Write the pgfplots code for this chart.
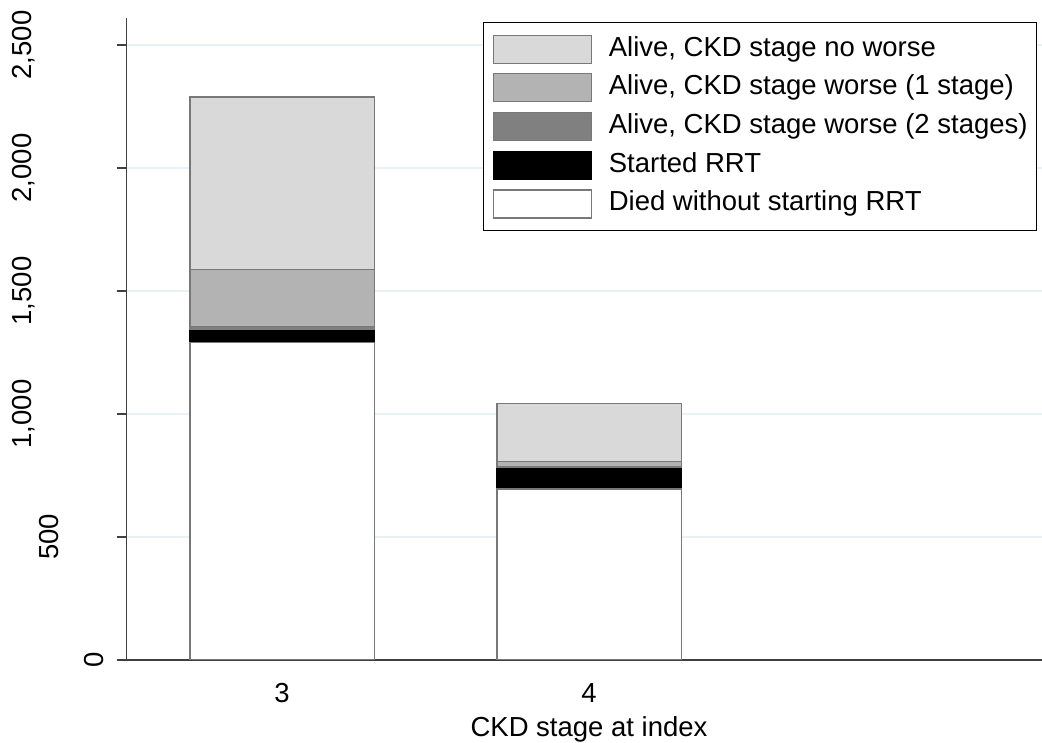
\documentclass[border=0pt]{standalone}
\usepackage{fontspec}
\setmainfont{Liberation Sans}
\usepackage{pgfplots}
\pgfplotsset{compat=1.18}
\definecolor{nw}{RGB}{217,217,217}
\definecolor{wone}{RGB}{179,179,179}
\definecolor{wtwo}{RGB}{128,128,128}
\definecolor{gridc}{RGB}{232,241,243}
\definecolor{axc}{RGB}{64,64,64}
\definecolor{edge}{RGB}{120,120,120}
\newcommand{\bigfont}{\fontsize{27.5}{33}\selectfont}
\begin{document}
\bigfont
\begin{tikzpicture}
\begin{axis}[
  scale only axis, width=953.5pt, height=642pt,
  at={(126.7pt,82pt)}, anchor=south west,
  xmin=2.494, xmax=5.6, ymin=0, ymax=2610,
  axis x line=bottom, axis y line=left,
  axis line style={-, draw=axc, line width=1.3pt},
  ybar stacked, bar width=0.6,
  xtick={3,4}, xticklabels={3,4},
  x tick style={draw=none},
  ytick={0,500,1000,1500,2000,2500},
  yticklabels={\raisebox{12.7pt}{0}, \raisebox{57.7pt}{500}, {\raisebox{84.7pt}{1,000}}, {\raisebox{84.7pt}{1,500}}, {\raisebox{84.7pt}{2,000}}, {\raisebox{84.7pt}{2,500}}},
  y tick style={draw=axc, line width=1.3pt},
  tick align=outside, major tick length=10pt,
  ymajorgrids, grid style={draw=gridc, line width=2.5pt},
  tick label style={font=\bigfont},
  yticklabel style={rotate=90, anchor=base, inner sep=0pt},
  xticklabel style={anchor=north, inner sep=0pt, yshift=-13pt},
  xlabel={CKD stage at index},
  every axis x label/.style={at={(axis cs:4,0)}, anchor=north, yshift=-56pt, inner sep=0pt, font=\bigfont},
  legend style={at={(0.3737,0.9938)}, anchor=north west, draw=black, line width=1.2pt,
    inner xsep=9pt, inner ysep=12pt, row sep=9.5pt, column sep=17pt,
    nodes={inner sep=0pt, text height=20pt, text depth=6pt, anchor=west}, font=\bigfont},
  legend cell align=left,
  reverse legend,
  legend image code/.code={\draw[#1] (0pt,-14pt) rectangle (98pt,14pt);},
]
\addplot[fill=white, draw=edge, line width=1.2pt] coordinates {(3,1291) (4,695)};
\addlegendentry{Died without starting RRT}
\addplot[fill=black, draw=black, line width=1.2pt] coordinates {(3,50) (4,84)};
\addlegendentry{Started RRT}
\addplot[fill=wtwo, draw=edge, line width=1.2pt] coordinates {(3,14) (4,7)};
\addlegendentry{Alive, CKD stage worse (2 stages)}
\addplot[fill=wone, draw=edge, line width=1.2pt] coordinates {(3,234) (4,20)};
\addlegendentry{Alive, CKD stage worse (1 stage)}
\addplot[fill=nw, draw=edge, line width=1.2pt] coordinates {(3,700) (4,238)};
\addlegendentry{Alive, CKD stage no worse}
\end{axis}
\pgfresetboundingbox
\path[use as bounding box] (0,0) rectangle (1042pt,742pt);
\end{tikzpicture}
\end{document}
